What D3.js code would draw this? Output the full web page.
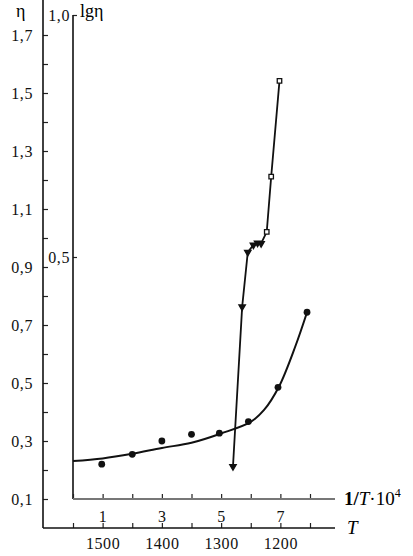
<!DOCTYPE html>
<html>
<head>
<meta charset="utf-8">
<script src="https://cdn.jsdelivr.net/npm/d3@7"></script>
<style>
  body { margin: 0; background: #fff; }
  svg { display: block; font-family: "Liberation Serif", "DejaVu Serif", serif; }
  .tick text { font-family: "Liberation Serif", serif; font-size: 16px; fill: #111; }
</style>
</head>
<body>
<div id="chart"></div>
<script>
// Smooth curve through the η data (left axis)
const curveX = [0, 1, 2, 3, 4, 5, 6, 6.45, 6.95, 7.5, 7.9];
const curveEta = [0.231, 0.240, 0.256, 0.276, 0.294, 0.326, 0.366, 0.407, 0.487, 0.625, 0.744];

// Measured η (filled circles)
const circX = [0.97, 2, 3, 4, 4.94, 5.92, 6.92, 7.9];
const circEta = [0.220, 0.254, 0.300, 0.323, 0.327, 0.367, 0.485, 0.744];

// Measured lgη (triangles, inner axis)
const triX = [5.40, 5.71, 5.90, 6.09, 6.23, 6.35, 6.54, 6.69, 6.97];
const triLg = [0.067, 0.397, 0.510, 0.525, 0.529, 0.528, 0.552, 0.666, 0.864];

// Axis ticks
const etaTicks = [0.1, 0.2, 0.3, 0.4, 0.5, 0.6, 0.7, 0.8, 0.9, 1.0, 1.1, 1.2, 1.3, 1.4, 1.5, 1.6, 1.7];
const lgTicks = [0.5, 1.0];
const invTTicks = [0, 1, 2, 3, 4, 5, 6, 7, 8];
const tempTicks = [1550, 1500, 1450, 1400, 1350, 1300, 1250, 1200, 1150];

const width = 413, height = 556;

const svg = d3.select('#chart').append('svg')
    .attr('width', width)
    .attr('height', height);

const x = d3.scaleLinear().domain([0, 8]).range([73, 310]);
const t = d3.scaleLinear().domain([1550, 1150]).range([73, 310]);
const eta = d3.scaleLinear().domain([0.1, 1.7]).range([499, 35]);
const lg = d3.scaleLinear().domain([0, 1]).range([499, 15]);

const comma = d => d3.format('.1f')(d).replace('.', ',');

// η axis (outer left)
const etaAxis = svg.append('g')
    .attr('transform', 'translate(43,0)')
    .call(d3.axisLeft(eta)
      .tickValues(etaTicks)
      .tickSizeInner(-5)
      .tickSizeOuter(0)
      .tickPadding(10)
      .tickFormat(d => Math.round(d * 10) % 2 ? comma(d) : ''));
etaAxis.select('.domain').remove();
etaAxis.append('line')
    .attr('y1', 0).attr('y2', 528)
    .attr('stroke', '#111').attr('stroke-width', 1.6);

// lgη axis (inner)
const lgAxis = svg.append('g')
    .attr('transform', 'translate(73,0)')
    .call(d3.axisLeft(lg)
      .tickValues(lgTicks)
      .tickSizeInner(-4)
      .tickSizeOuter(0)
      .tickPadding(3)
      .tickFormat(comma));
lgAxis.select('.domain').remove();
lgAxis.append('line')
    .attr('y1', 15).attr('y2', 499)
    .attr('stroke', '#111').attr('stroke-width', 1.6);

// 1/T·10^4 axis
const invAxis = svg.append('g')
    .attr('transform', 'translate(0,499)')
    .call(d3.axisBottom(x)
      .tickValues(invTTicks)
      .tickSizeInner(-5)
      .tickSizeOuter(0)
      .tickPadding(12)
      .tickFormat(d => d % 2 ? d : ''));
invAxis.select('.domain').remove();
invAxis.append('line')
    .attr('x1', 73).attr('x2', 335)
    .attr('stroke', '#777').attr('stroke-width', 2.2);

// T axis
const tAxis = svg.append('g')
    .attr('transform', 'translate(0,528)')
    .call(d3.axisBottom(t)
      .tickValues(tempTicks)
      .tickSizeInner(-5)
      .tickSizeOuter(0)
      .tickPadding(10)
      .tickFormat(d => d % 100 === 0 ? d : ''));
tAxis.select('.domain').remove();
tAxis.append('line')
    .attr('x1', 43).attr('x2', 335)
    .attr('stroke', '#111').attr('stroke-width', 1.6);

svg.selectAll('.tick line').attr('stroke', '#222').attr('stroke-width', 1.2);
svg.selectAll('.tick text').attr('letter-spacing', '0.6px');

// Axis titles
svg.append('text').attr('x', 16).attr('y', 17)
    .style('font-size', '18px').text('η');
svg.append('text').attr('x', 80).attr('y', 17)
    .style('font-size', '18px').text('lgη');

const invTitle = svg.append('text').attr('x', 344).attr('y', 505)
    .style('font-size', '19px');
invTitle.append('tspan').style('font-weight', 'bold').text('1/');
invTitle.append('tspan').style('font-style', 'italic').text('T');
invTitle.append('tspan').text('·10');
invTitle.append('tspan').attr('dy', -8).style('font-size', '12px').text('4');

svg.append('text').attr('x', 347).attr('y', 534)
    .style('font-size', '19px').style('font-style', 'italic').text('T');

// η fitted curve
const etaLine = d3.line()
    .x((d, i) => x(curveX[i]))
    .y(d => eta(d))
    .curve(d3.curveCatmullRom);

svg.append('path')
    .datum(curveEta)
    .attr('d', etaLine)
    .attr('fill', 'none')
    .attr('stroke', '#111')
    .attr('stroke-width', 2);

svg.append('g').selectAll('circle')
    .data(circEta)
  .join('circle')
    .attr('cx', (d, i) => x(circX[i]))
    .attr('cy', d => eta(d))
    .attr('r', 3.4)
    .attr('fill', '#111');

// lgη polyline with triangle markers
const lgLine = d3.line()
    .x((d, i) => x(triX[i]))
    .y(d => lg(d));

svg.append('path')
    .datum(triLg)
    .attr('d', lgLine)
    .attr('fill', 'none')
    .attr('stroke', '#111')
    .attr('stroke-width', 1.8);

svg.append('g').selectAll('path')
    .data(triLg)
  .join('path')
    .attr('transform', (d, i) => 'translate(' + x(triX[i]) + ',' + lg(d) + ')' + (i < 6 ? ' rotate(180)' : ''))
    .attr('d', (d, i) => d3.symbol().type(i < 6 ? d3.symbolTriangle : d3.symbolSquare).size(i < 6 ? 18 : 20)())
    .attr('fill', (d, i) => i < 6 ? '#111' : '#fff')
    .attr('stroke', '#111')
    .attr('stroke-width', 1.3);
</script>
</body>
</html>
